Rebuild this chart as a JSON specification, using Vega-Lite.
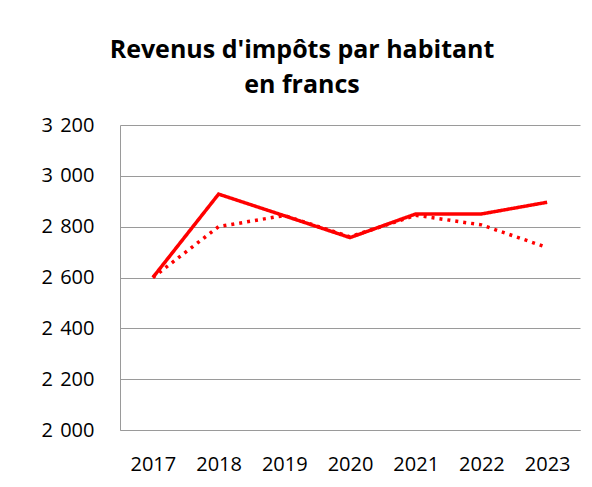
{
  "$schema": "https://vega.github.io/schema/vega-lite/v6.json",
  "width": 460,
  "height": 305,
  "autosize": "none",
  "padding": {"left": 120, "top": 125, "right": 12, "bottom": 57},
  "background": "white",
  "title": {
    "text": ["Revenus d'impôts par habitant", "en francs"],
    "fontSize": 25,
    "font": "Open Sans",
    "fontWeight": "bold",
    "color": "#000000",
    "anchor": "middle",
    "dx": -48,
    "offset": 17,
    "lineHeight": 35
  },
  "data": {
    "values": [
      {"annee": "2017", "serie": "Comptes", "valeur": 2600},
      {"annee": "2018", "serie": "Comptes", "valeur": 2928},
      {"annee": "2019", "serie": "Comptes", "valeur": 2843},
      {"annee": "2020", "serie": "Comptes", "valeur": 2757},
      {"annee": "2021", "serie": "Comptes", "valeur": 2850},
      {"annee": "2022", "serie": "Comptes", "valeur": 2850},
      {"annee": "2023", "serie": "Comptes", "valeur": 2896},
      {"annee": "2017", "serie": "Budget", "valeur": 2600},
      {"annee": "2018", "serie": "Budget", "valeur": 2800},
      {"annee": "2019", "serie": "Budget", "valeur": 2844},
      {"annee": "2020", "serie": "Budget", "valeur": 2760},
      {"annee": "2021", "serie": "Budget", "valeur": 2845},
      {"annee": "2022", "serie": "Budget", "valeur": 2807},
      {"annee": "2023", "serie": "Budget", "valeur": 2718}
    ]
  },
  "mark": {"type": "line", "strokeWidth": 3.5, "strokeCap": "butt"},
  "encoding": {
    "x": {
      "field": "annee",
      "type": "ordinal",
      "scale": {"type": "point", "padding": 0.5},
      "axis": {
        "title": null,
        "labelAngle": 0,
        "labelFont": "Open Sans",
        "labelFontSize": 20,
        "labelColor": "#000000",
        "labelPadding": 24,
        "ticks": false,
        "domain": true,
        "domainColor": "#9a9a9a",
        "domainWidth": 1,
        "grid": false
      }
    },
    "y": {
      "field": "valeur",
      "type": "quantitative",
      "scale": {"domain": [2000, 3200], "nice": false, "zero": false},
      "axis": {
        "title": null,
        "values": [2000, 2200, 2400, 2600, 2800, 3000, 3200],
        "labelExpr": "replace(format(datum.value, ','), ',', ' \u200a')",
        "labelFont": "Open Sans",
        "labelFontSize": 20,
        "labelColor": "#000000",
        "labelPadding": 26,
        "ticks": false,
        "domain": true,
        "domainColor": "#9a9a9a",
        "domainWidth": 1,
        "grid": true,
        "gridColor": "#9a9a9a",
        "gridWidth": 1
      }
    },
    "color": {
      "field": "serie",
      "type": "nominal",
      "scale": {"domain": ["Comptes", "Budget"], "range": ["#ff0000", "#ff0000"]},
      "legend": null
    },
    "strokeDash": {
      "field": "serie",
      "type": "nominal",
      "scale": {"domain": ["Comptes", "Budget"], "range": [[1, 0], [3, 5]]},
      "legend": null
    }
  },
  "config": {
    "view": {"stroke": null}
  }
}
